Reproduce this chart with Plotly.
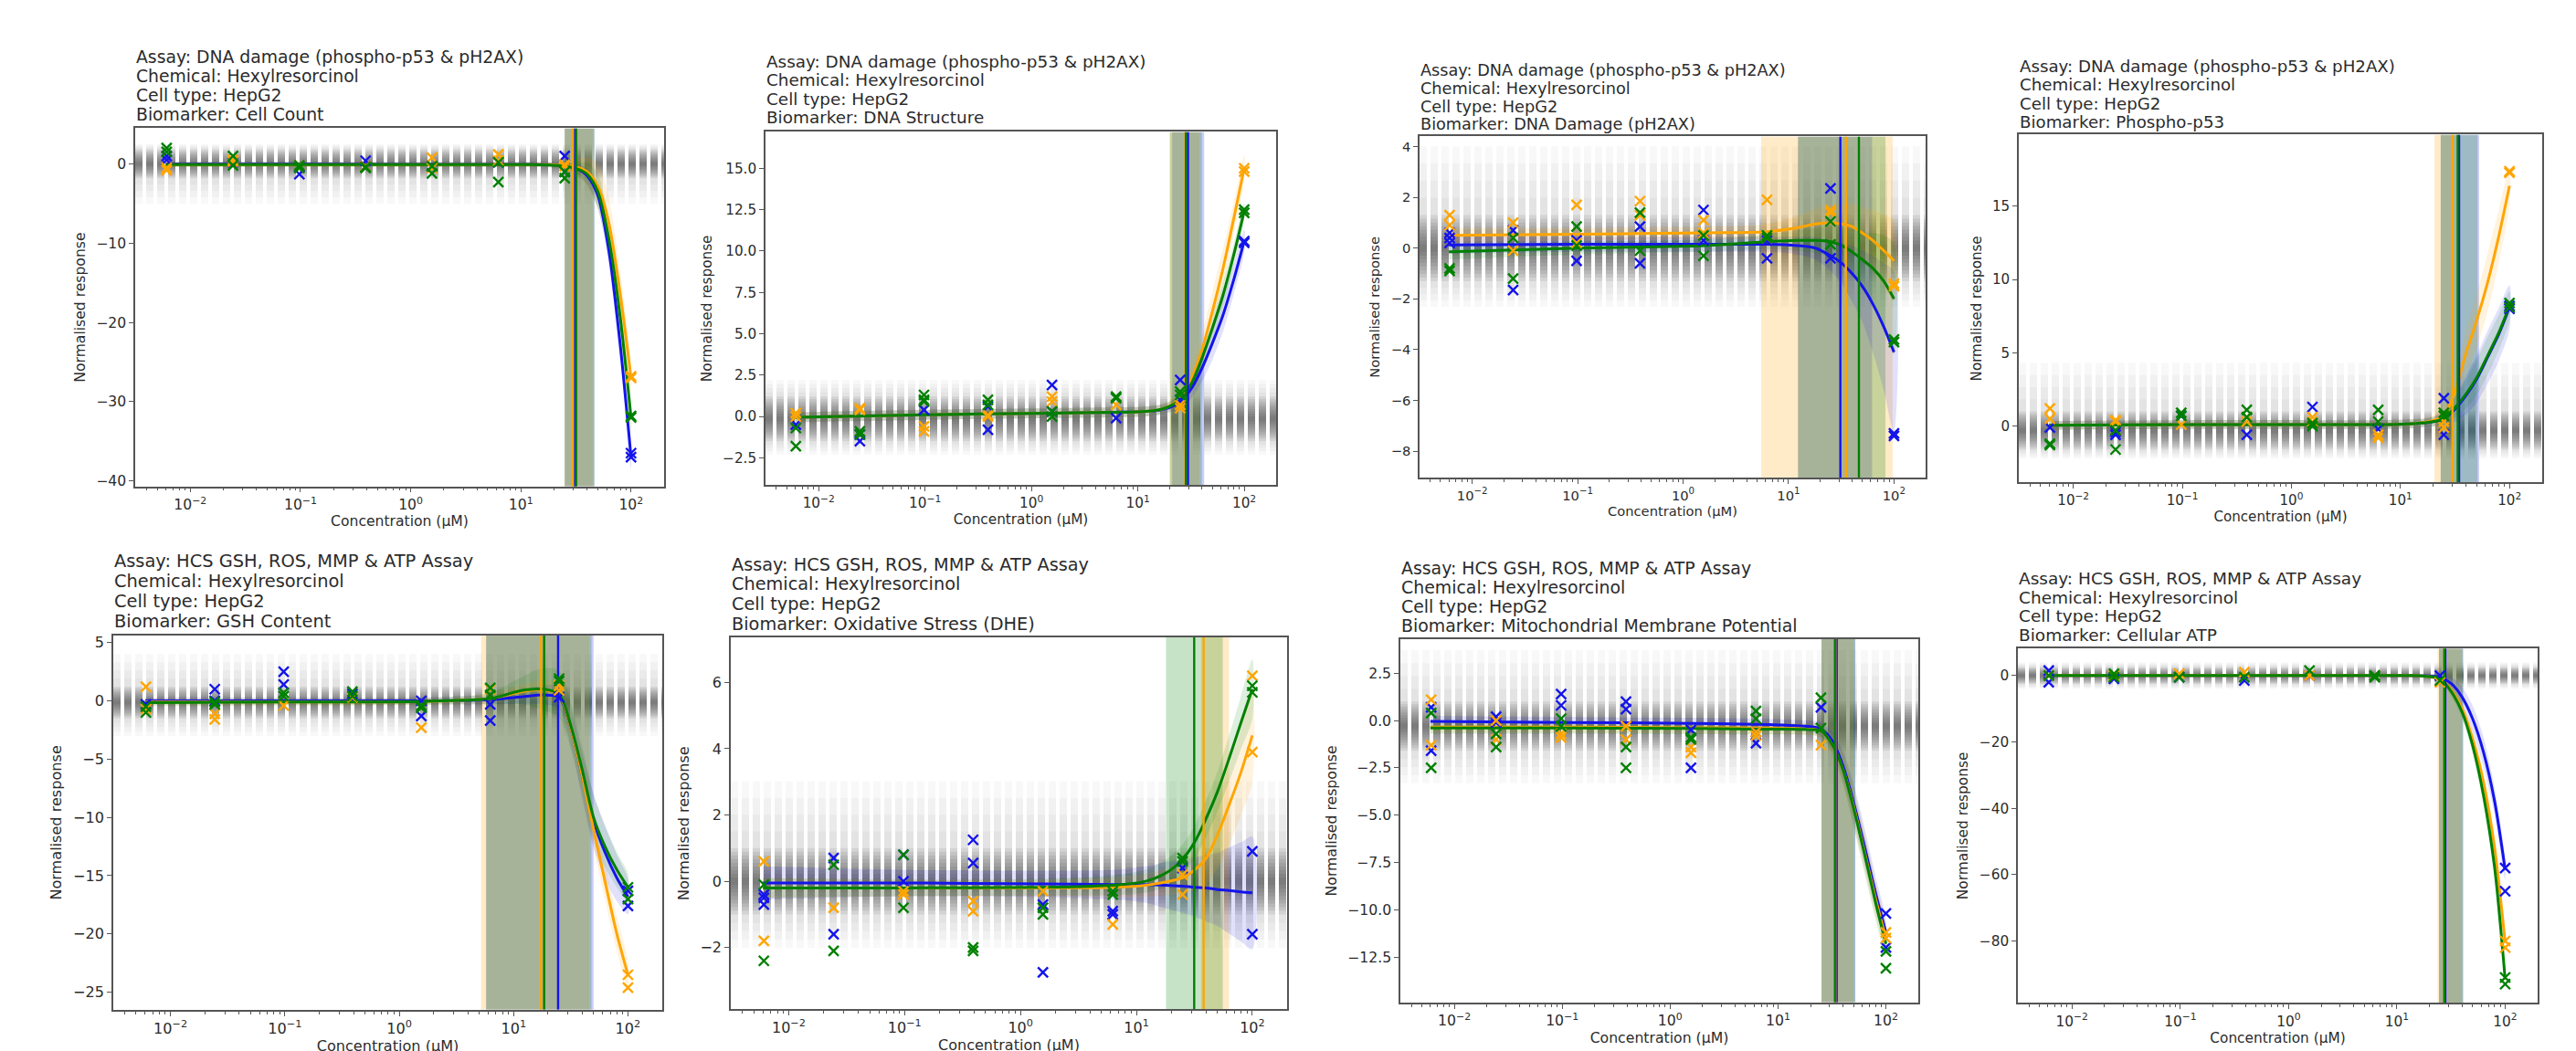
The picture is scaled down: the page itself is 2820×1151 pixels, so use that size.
import plotly.graph_objects as go

W, H = 2820, 1151

# ---------------- data ----------------
CONC = [0.0061, 0.0244, 0.0977, 0.39, 1.56, 6.25, 25, 100]
CURVE_X = [0.006, 0.1, 1.6, 6.25, 12, 18, 25, 32, 40, 50, 63, 80, 100]
X_TICKS = [0.01, 0.1, 1, 10, 100]
X_TICKTEXT = ["10<sup>−2</sup>", "10<sup>−1</sup>", "10<sup>0</sup>", "10<sup>1</sup>", "10<sup>2</sup>"]

ASSAYS = ["Assay: DNA damage (phospho-p53 & pH2AX)"] * 4 + ["Assay: HCS GSH, ROS, MMP & ATP Assay"] * 4
CHEMICAL = "Chemical: Hexylresorcinol"
CELL = "Cell type: HepG2"
BIOMARKERS = ["Cell Count", "DNA Structure", "DNA Damage (pH2AX)", "Phospho-p53",
              "GSH Content", "Oxidative Stress (DHE)", "Mitochondrial Membrane Potential", "Cellular ATP"]
X_LABEL = "Concentration (µM)"
Y_LABEL = "Normalised response"

# replicate responses per concentration: blue, orange, green
P1_B = [[0.5, 1.0], [0.2], [-1.3, -0.4], [0.4, -0.3], [-0.3], [0.2], [1.0, -1.0], [-37.0, -36.5]]
P1_O = [[-0.5, -0.8], [0.3, 0.5], [-0.2], [-0.3], [0.8, -0.5], [1.2, 0.4], [-0.1, -0.3], [-27.0, -26.8]]
P1_G = [[2.0, 1.5], [1.0, -0.2], [-0.5, -0.2], [-0.4, -0.5], [-1.2, -0.3], [-2.3, 0.2], [-1.8, -1.0], [-32.0, -31.8]]

P2_B = [[-0.5], [-1.5, -1.1], [0.4], [-0.8, 0.6], [1.9, 0.3], [-0.1], [2.2, 1.0], [10.6, 10.5]]
P2_O = [[0.2, 0.0], [0.4, 0.5], [-0.9, -0.6], [0.1, 0.0], [1.2, 0.9], [0.7], [0.5, 0.7], [15.0, 14.8]]
P2_G = [[-0.7, -1.8], [-0.9, -1.1], [1.3, 1.0, 0.9], [1.0, 0.7], [0.0, 0.3], [1.2, 1.1], [1.5, 1.3], [12.5, 12.3]]

P3_B = [[0.6, 0.4, 0.2], [0.7, -1.65], [0.3, -0.5], [0.85, -0.6], [1.5, 0.3], [-0.4, 0.3], [2.35, -0.4], [-7.4, -7.3]]
P3_O = [[1.3, 0.9], [1.0, -0.1], [1.7, 0.2], [1.85, 1.3], [1.1, 0.6], [1.9, 0.4], [1.5, 1.4], [-1.5, -1.4]]
P3_G = [[-0.9, -0.8], [0.4, -1.2], [0.85, 0.1], [1.4, -0.1], [0.5, -0.3], [0.5, 0.4], [1.05, 0.15], [-3.7, -3.6]]

P4_B = [[-0.1], [-0.4, -0.6], [0.7], [-0.6], [1.3], [-0.2], [1.9, -0.6], [8.2, 8.0]]
P4_O = [[1.2, 0.5], [0.4, 0.3], [0.1], [0.3, 0.6], [0.6, 0.3], [-0.8, -0.6], [0.3, -0.1], [17.3, 17.4]]
P4_G = [[-1.3, -1.2], [-1.6, -0.3], [0.9, 0.7], [1.1, 0.6], [0.2, 0.0], [1.1, 0.3], [0.9, 0.7], [8.4, 8.1]]

P5_B = [[-0.3], [1.0, 0.0], [2.5, 1.4], [0.6], [0.0, -1.3], [-0.3, -1.7], [0.3], [-16.3, -17.6]]
P5_O = [[1.2, -0.7], [-1.1, -1.6], [-0.4], [0.3], [-2.3], [1.0], [1.3, 0.9], [-23.5, -24.6]]
P5_G = [[-0.5, -1.0], [-0.1, -0.3], [0.7, 0.4], [0.8, 0.4], [-0.6, -0.4], [1.1, 0.5], [1.9, 1.7], [-16.0, -17.0]]

P6_B = [[-0.4, -0.7, -0.5], [0.7, -1.6], [0.8, 0.0], [1.25, 0.55], [-0.7, -2.75], [-0.9, -1.0], [0.4], [0.9, -1.6]]
P6_O = [[0.6, -1.8], [-0.8], [-0.3, -0.4], [-0.6, -0.9], [-0.3], [-1.3], [0.2, -0.4], [6.2, 3.9]]
P6_G = [[-0.1, -2.4], [0.5, -2.1], [0.8, -0.8], [-2.0, -2.1], [-0.8, -1.0], [-0.3, -0.4], [0.7, 0.6], [5.9, 5.7]]

P7_B = [[0.7, -1.6], [0.2, -0.1], [1.4, 0.8], [1.0, 0.6], [-0.5, -2.5], [-1.2, -0.6], [0.7], [-10.2, -12.0]]
P7_O = [[1.1, -1.3], [0.0, -1.0], [-0.7, -0.9], [-0.3, -1.0], [-1.4, -1.7], [-0.8, -0.6], [-1.3], [-11.2, -11.5]]
P7_G = [[0.4, -2.5], [-0.7, -1.4], [0.1, -0.3], [-1.4, -2.5], [-0.9, -1.0], [0.5, 0.1], [1.2, -0.4], [-12.2, -13.1]]

P8_B = [[1.5, -2.0], [-1.0], [-0.5], [-1.5], [0.0], [0.0], [0.0], [-58.0, -65.0]]
P8_O = [[0.0], [0.0], [0.5], [1.0], [0.0], [0.0], [-2.0], [-80.0, -82.0]]
P8_G = [[0.0], [0.5, -0.5], [-0.5], [-0.5], [1.5], [-0.5, 0.0], [-1.5], [-91.0, -93.0]]

# fitted curves at CURVE_X (blue, orange, green)
P1_CB = [0, 0, -0.05, -0.05, -0.05, -0.1, -0.2, -0.6, -1.5, -4.0, -11.0, -23.0, -37.0]
P1_CO = [-0.1, -0.1, -0.1, -0.1, -0.1, -0.1, -0.2, -0.4, -1.0, -2.8, -7.5, -16.5, -27.0]
P1_CG = [-0.1, -0.1, -0.1, -0.1, -0.1, -0.15, -0.3, -0.6, -1.3, -3.5, -9.5, -19.5, -32.0]
P2_CB = [-0.05, 0.1, 0.2, 0.25, 0.3, 0.45, 0.9, 1.7, 2.9, 4.4, 6.1, 8.3, 10.6]
P2_CO = [-0.05, 0.1, 0.2, 0.25, 0.3, 0.5, 1.1, 2.3, 4.0, 6.3, 8.9, 12.0, 15.0]
P2_CG = [-0.05, 0.1, 0.2, 0.25, 0.3, 0.5, 1.0, 2.0, 3.5, 5.3, 7.3, 9.8, 12.4]
P3_CB = [0.12, 0.15, 0.15, 0.15, 0.1, 0.0, -0.3, -0.6, -1.0, -1.5, -2.2, -3.1, -4.1]
P3_CO = [0.5, 0.55, 0.6, 0.65, 0.8, 0.95, 1.0, 0.95, 0.85, 0.6, 0.3, -0.1, -0.5]
P3_CG = [-0.15, 0.0, 0.1, 0.25, 0.3, 0.3, 0.25, 0.1, -0.15, -0.45, -0.8, -1.3, -2.0]
P4_CB = [0.05, 0.1, 0.1, 0.1, 0.15, 0.25, 0.5, 1.2, 2.1, 3.2, 4.7, 6.3, 8.1]
P4_CO = [0.05, 0.1, 0.1, 0.1, 0.15, 0.3, 0.7, 2.5, 5.0, 7.2, 9.8, 13.0, 16.4]
P4_CG = [0.05, 0.1, 0.1, 0.1, 0.15, 0.25, 0.5, 1.3, 2.2, 3.3, 4.8, 6.4, 8.2]
P5_CB = [0.0, 0.0, 0.0, 0.1, 0.35, 0.5, 0.3, -2.5, -6.5, -10.3, -13.0, -15.2, -16.8]
P5_CO = [-0.1, -0.1, -0.05, 0.2, 0.8, 0.95, 0.5, -2.5, -6.5, -11.0, -15.5, -20.0, -23.5]
P5_CG = [-0.15, -0.1, -0.05, 0.2, 0.9, 1.0, 0.6, -2.3, -6.0, -10.0, -12.5, -14.5, -16.0]
P6_CB = [-0.05, -0.05, -0.08, -0.1, -0.1, -0.12, -0.15, -0.18, -0.2, -0.25, -0.28, -0.32, -0.35]
P6_CO = [-0.2, -0.2, -0.2, -0.18, -0.12, -0.02, 0.1, 0.35, 0.7, 1.4, 2.3, 3.3, 4.4]
P6_CG = [-0.2, -0.2, -0.18, -0.12, 0.0, 0.25, 0.66, 1.2, 1.9, 2.7, 3.7, 4.8, 5.8]
P7_CB = [-0.05, -0.1, -0.15, -0.2, -0.25, -0.3, -0.45, -1.1, -2.4, -4.3, -6.6, -9.1, -11.2]
P7_CO = [-0.35, -0.35, -0.38, -0.4, -0.42, -0.45, -0.55, -1.3, -2.6, -4.5, -6.9, -9.4, -11.5]
P7_CG = [-0.4, -0.4, -0.42, -0.45, -0.45, -0.47, -0.55, -1.3, -2.6, -4.6, -7.0, -9.6, -11.8]
P8_CB = [0, 0, 0, 0, 0, -0.1, -0.5, -2.5, -6.5, -13.0, -23.0, -38.0, -58.5]
P8_CO = [0, 0, 0, 0, 0, -0.2, -1.0, -4.5, -10.0, -19.0, -32.0, -52.0, -80.5]
P8_CG = [0, 0, 0, 0, 0, -0.2, -1.0, -5.0, -11.0, -21.0, -36.0, -58.0, -91.5]

# curve uncertainty half-widths at CURVE_X (blue, orange, green)
P1_EB = [0.3, 0.3, 0.3, 0.3, 0.3, 0.3, 0.4, 0.6, 1.0, 1.5, 1.8, 1.8, 1.5]
P1_EO = [0.3, 0.3, 0.3, 0.3, 0.3, 0.3, 0.5, 1.0, 1.8, 2.8, 3.2, 2.8, 1.8]
P1_EG = [0.3, 0.3, 0.3, 0.3, 0.3, 0.3, 0.4, 0.8, 1.4, 2.2, 2.5, 2.2, 1.5]
P2_EB = [0.3, 0.3, 0.3, 0.3, 0.3, 0.3, 0.4, 0.6, 0.8, 1.0, 1.0, 0.9, 0.7]
P2_EO = [0.3, 0.3, 0.3, 0.3, 0.3, 0.3, 0.4, 0.7, 1.0, 1.2, 1.2, 1.0, 0.8]
P2_EG = [0.3, 0.3, 0.3, 0.3, 0.3, 0.3, 0.3, 0.5, 0.7, 0.8, 0.8, 0.7, 0.5]
P3_EB = [0.35, 0.3, 0.3, 0.3, 0.35, 0.45, 0.6, 0.8, 1.1, 1.4, 1.9, 2.5, 3.2]
P3_EO = [0.3, 0.25, 0.25, 0.3, 0.45, 0.6, 0.7, 0.8, 0.9, 1.0, 1.2, 1.4, 1.6]
P3_EG = [0.3, 0.25, 0.25, 0.3, 0.4, 0.5, 0.6, 0.7, 0.9, 1.1, 1.4, 1.8, 2.2]
P4_EB = [0.3, 0.3, 0.3, 0.3, 0.3, 0.3, 0.5, 0.9, 1.3, 1.6, 1.8, 1.8, 1.5]
P4_EO = [0.3, 0.3, 0.3, 0.3, 0.3, 0.3, 0.5, 1.0, 1.5, 1.8, 2.0, 1.8, 1.3]
P4_EG = [0.3, 0.3, 0.3, 0.3, 0.3, 0.3, 0.4, 0.7, 1.0, 1.2, 1.3, 1.2, 1.0]
P5_EB = [0.3, 0.3, 0.3, 0.4, 0.6, 0.8, 1.0, 1.5, 2.0, 2.3, 2.3, 2.0, 1.5]
P5_EO = [0.3, 0.3, 0.3, 0.4, 0.6, 0.8, 1.0, 1.3, 1.5, 1.6, 1.6, 1.5, 1.2]
P5_EG = [0.3, 0.3, 0.3, 0.5, 1.2, 1.8, 2.0, 2.0, 2.0, 2.0, 1.8, 1.5, 1.2]
P6_EB = [0.5, 0.4, 0.4, 0.45, 0.55, 0.7, 0.8, 0.9, 1.0, 1.1, 1.3, 1.5, 1.7]
P6_EO = [0.3, 0.25, 0.25, 0.3, 0.35, 0.4, 0.5, 0.6, 0.8, 1.0, 1.2, 1.3, 1.4]
P6_EG = [0.3, 0.25, 0.25, 0.3, 0.35, 0.4, 0.45, 0.5, 0.55, 0.6, 0.7, 0.8, 0.9]
P7_EB = [0.3, 0.3, 0.3, 0.3, 0.3, 0.3, 0.35, 0.5, 0.8, 1.0, 1.0, 0.9, 0.7]
P7_EO = [0.3, 0.3, 0.3, 0.3, 0.3, 0.3, 0.35, 0.5, 0.8, 1.0, 1.0, 0.9, 0.7]
P7_EG = [0.3, 0.3, 0.3, 0.3, 0.3, 0.3, 0.35, 0.5, 0.8, 1.0, 1.0, 0.9, 0.7]
P8_EB = [0.5, 0.5, 0.5, 0.5, 0.5, 0.5, 1.0, 2.0, 3.0, 4.0, 4.5, 4.0, 3.0]
P8_EO = [0.5, 0.5, 0.5, 0.5, 0.5, 0.5, 1.0, 1.5, 2.0, 2.5, 2.5, 2.5, 2.0]
P8_EG = [0.5, 0.5, 0.5, 0.5, 0.5, 0.5, 1.0, 1.5, 2.0, 2.5, 2.5, 2.5, 2.0]

# potency estimate (vertical line) and its interval, per panel: blue, orange, green
V_MID = [[31, 29.6, 31.8], [29.6, 28, 28.3], [31, 35, 46.5], [34.5, 30, 33.5],
         [24.5, 17.4, 18.5], [None, 38, 31.5], [35, 34, 33.7], [28, 27.4, 27.4]]
V_LO = [[25, 24.9, 25], [21, 20, 20], [12.3, 5.5, 12.3], [23.4, 20.5, 23.4],
        [5.75, 5.2, 5.75], [None, 36, 18], [25.3, 25.3, 25.3], [24.5, 23.8, 24.5]]
V_HI = [[46.5, 45, 46.5], [42, 38, 40], [62, 97, 83], [52.6, 35, 51],
        [50, 46, 48], [None, 63, 55.6], [52, 50, 52], [40.9, 40, 40.9]]

# null (control) distribution band: core and outer extents
NULL_CORE = [(-1.8, 1.8), (-1.5, 1.2), (-1.3, 1.3), (-1.6, 1.0), (-1.5, 1.2), (-1.0, 1.0), (-1.6, 1.0), (-2.5, 2.5)]
NULL_OUTER = [(-5.0, 2.5), (-2.3, 2.2), (-2.3, 4.0), (-2.2, 4.3), (-3.0, 4.0), (-2.0, 3.0), (-3.3, 3.7), (-4.0, 4.0)]

Y_RANGE = [(-40.7, 4.5), (-4.15, 17.2), (-9.05, 4.4), (-3.85, 19.9), (-26.5, 5.6), (-3.86, 7.36), (-14.9, 4.3), (-98.7, 8.1)]
Y_TICKS = [[-40, -30, -20, -10, 0], [-2.5, 0, 2.5, 5, 7.5, 10, 12.5, 15], [-8, -6, -4, -2, 0, 2, 4], [0, 5, 10, 15],
           [-25, -20, -15, -10, -5, 0, 5], [-2, 0, 2, 4, 6], [-12.5, -10, -7.5, -5, -2.5, 0, 2.5], [-80, -60, -40, -20, 0]]
Y_FMT = ["d", ".1f", "d", "d", "d", "d", ".1f", "d"]

PTS = [(P1_B, P1_O, P1_G), (P2_B, P2_O, P2_G), (P3_B, P3_O, P3_G), (P4_B, P4_O, P4_G),
       (P5_B, P5_O, P5_G), (P6_B, P6_O, P6_G), (P7_B, P7_O, P7_G), (P8_B, P8_O, P8_G)]
CURVES = [(P1_CB, P1_CO, P1_CG), (P2_CB, P2_CO, P2_CG), (P3_CB, P3_CO, P3_CG), (P4_CB, P4_CO, P4_CG),
          (P5_CB, P5_CO, P5_CG), (P6_CB, P6_CO, P6_CG), (P7_CB, P7_CO, P7_CG), (P8_CB, P8_CO, P8_CG)]
ERRS = [(P1_EB, P1_EO, P1_EG), (P2_EB, P2_EO, P2_EG), (P3_EB, P3_EO, P3_EG), (P4_EB, P4_EO, P4_EG),
        (P5_EB, P5_EO, P5_EG), (P6_EB, P6_EO, P6_EG), (P7_EB, P7_EO, P7_EG), (P8_EB, P8_EO, P8_EG)]

# ---------------- style / layout ----------------
BOXES = [(140, 719, 131, 525), (830, 1389, 135, 523.5), (1546, 2100, 140, 515.5), (2202, 2775, 138, 520.6),
         (116, 717, 689, 1100.6), (792, 1401, 691, 1100), (1525, 2092, 693, 1092.5), (2201, 2770, 703.4, 1093.2)]
TITLE_Y0 = [52.7, 58, 67, 63, 607, 611, 614.5, 626.5]
TITLE_DY = [21.2, 20.3, 20.0, 20.3, 22.0, 21.7, 21.0, 20.5]
TITLE_FS = [18.8, 18.4, 17.7, 18.2, 19.4, 19.3, 18.9, 18.5]
RGB = [(20, 20, 235), (255, 165, 0), (0, 128, 0)]
TXT = "#2b2b2b"
FONT = "DejaVu Sans"
MINOR = [m * 10 ** e for e in range(-3, 3) for m in range(2, 10)]
DASH = "8px,4px"


def rgba(c, a):
    r, g, b = RGB[c]
    return f"rgba({r},{g},{b},{a})"


fig = go.Figure()
layout = {}
shapes = []
annotations = []

for i in range(8):
    n = i + 1
    xa = "x" if n == 1 else f"x{n}"
    ya = "y" if n == 1 else f"y{n}"
    L, R, T, B = BOXES[i]
    ylo, yhi = Y_RANGE[i]
    tfs = TITLE_FS[i] * 0.83
    common = dict(showline=True, linecolor="#555", linewidth=1.5, mirror=True, showgrid=False,
                  zeroline=False, ticks="outside", ticklen=5, tickwidth=1.2, tickcolor="#555",
                  tickfont=dict(size=tfs, color=TXT, family=FONT))
    layout[f"xaxis{n}"] = dict(domain=[L / W, R / W], anchor=ya, type="log", range=[-2.5, 2.3],
                               tickmode="array", tickvals=X_TICKS, ticktext=X_TICKTEXT,
                               minor=dict(tickmode="array", tickvals=MINOR, ticks="outside", ticklen=3,
                                          tickwidth=1, tickcolor="#555"),
                               title=dict(text=X_LABEL, font=dict(size=tfs, color=TXT, family=FONT), standoff=1),
                               **common)
    ytf = dict(tickformat=".1f") if Y_FMT[i] == ".1f" else {}
    layout[f"yaxis{n}"] = dict(domain=[1 - B / H, 1 - T / H], anchor=xa, range=[ylo, yhi],
                               tickmode="array", tickvals=Y_TICKS[i],
                               title=dict(text=Y_LABEL, font=dict(size=tfs, color=TXT, family=FONT), standoff=8),
                               **ytf, **common)

    # null distribution band: nested, semi-transparent dashed bands -> striped gradient
    clo, chi = NULL_CORE[i]
    olo, ohi = NULL_OUTER[i]
    ppu = (B - T) / (yhi - ylo)
    cc = (clo + chi) / 2
    xref = f"{xa} domain"
    layers = []
    for k in range(4):  # faint outer layers
        f = (k + 1) / 4
        lo_k = clo + (olo - clo) * f
        hi_k = chi + (ohi - chi) * f
        layers.append((lo_k, hi_k, 0.035))
    for k in range(9):  # core layers, shrinking to the centre
        f = (k + 1) / 9
        lo_k = cc + (clo - cc) * f
        hi_k = cc + (chi - cc) * f
        layers.append((lo_k, hi_k, 0.085))
    for lo_k, hi_k, a in layers:
        yv = (lo_k + hi_k) / 2
        shapes.append(dict(type="line", xref=xref, yref=ya, x0=0, x1=1, y0=yv, y1=yv, layer="below",
                           line=dict(color=f"rgba(50,50,50,{a})", width=max((hi_k - lo_k) * ppu, 0.5),
                                     dash=DASH)))

    # potency intervals
    for c in range(3):
        if V_LO[i][c] is None:
            continue
        lo, hi = V_LO[i][c], V_HI[i][c]
        fig.add_trace(go.Scatter(x=[lo, hi, hi, lo, lo], y=[ylo, ylo, yhi, yhi, ylo], mode="lines",
                                 fill="toself", fillcolor=rgba(c, 0.22), line=dict(width=0),
                                 hoverinfo="skip", showlegend=False, xaxis=xa, yaxis=ya))
    # curve uncertainty
    for c in range(3):
        cur = CURVES[i][c]
        err = ERRS[i][c]
        up = [v + e for v, e in zip(cur, err)]
        dn = [v - e for v, e in zip(cur, err)]
        fig.add_trace(go.Scatter(x=CURVE_X + CURVE_X[::-1], y=up + dn[::-1], mode="lines",
                                 fill="toself", fillcolor=rgba(c, 0.13),
                                 line=dict(width=0, shape="spline", smoothing=0.8),
                                 hoverinfo="skip", showlegend=False, xaxis=xa, yaxis=ya))
    # fitted curves
    for c in range(3):
        fig.add_trace(go.Scatter(x=CURVE_X, y=CURVES[i][c], mode="lines",
                                 line=dict(color=rgba(c, 1), width=3, shape="spline", smoothing=0.8),
                                 showlegend=False, xaxis=xa, yaxis=ya))
    # potency lines
    for c in range(3):
        m = V_MID[i][c]
        if m is None:
            continue
        fig.add_trace(go.Scatter(x=[m, m], y=[ylo, yhi], mode="lines", line=dict(color=rgba(c, 1), width=2.4),
                                 hoverinfo="skip", showlegend=False, xaxis=xa, yaxis=ya))
    # replicate points
    for c in range(3):
        xs, ys = [], []
        for xv, reps in zip(CONC, PTS[i][c]):
            for r in reps:
                xs.append(xv)
                ys.append(r)
        fig.add_trace(go.Scatter(x=xs, y=ys, mode="markers",
                                 marker=dict(symbol="x-thin", size=11, color=rgba(c, 1),
                                             line=dict(width=2.4, color=rgba(c, 1))),
                                 showlegend=False, xaxis=xa, yaxis=ya))

    # multi-line title
    lines = [ASSAYS[i], CHEMICAL, CELL, "Biomarker: " + BIOMARKERS[i]]
    for j, t in enumerate(lines):
        yc = TITLE_Y0[i] + j * TITLE_DY[i]
        annotations.append(dict(text=t, xref="paper", yref="paper", x=L / W, y=1 - yc / H,
                                xanchor="left", yanchor="middle", showarrow=False, borderpad=0,
                                font=dict(size=TITLE_FS[i], color=TXT, family=FONT)))

fig.update_layout(width=W, height=H, margin=dict(l=0, r=0, t=0, b=0), paper_bgcolor="white",
                  plot_bgcolor="white", showlegend=False, shapes=shapes, annotations=annotations,
                  font=dict(family=FONT, color=TXT), **layout)

fig.write_html("out.html")
